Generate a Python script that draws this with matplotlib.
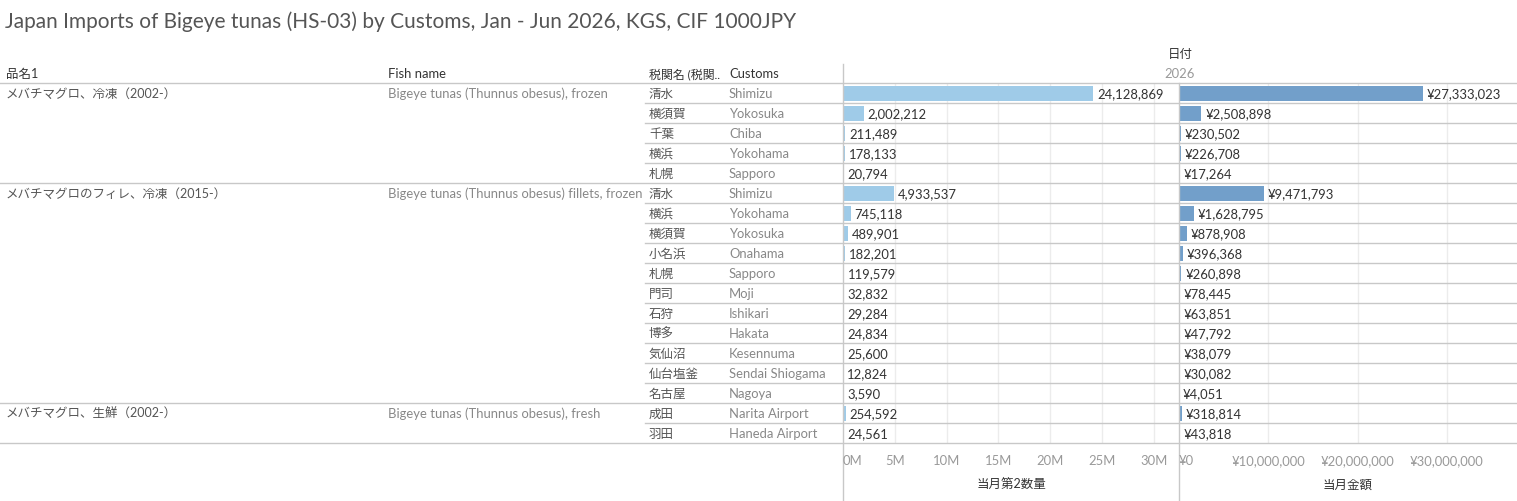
import matplotlib
matplotlib.use("Agg")
import matplotlib.pyplot as plt
from matplotlib.transforms import blended_transform_factory

plt.rcParams['font.family'] = ['Lato', 'Noto Sans CJK JP', 'DejaVu Sans']

# data
products_jp = ["メバチマグロ、冷凍（2002-）", "メバチマグロのフィレ、冷凍（2015-）", "メバチマグロ、生鮮（2002-）"]
products_en = ["Bigeye tunas (Thunnus obesus), frozen",
               "Bigeye tunas (Thunnus obesus) fillets, frozen",
               "Bigeye tunas (Thunnus obesus), fresh"]
group_sizes = [5, 11, 2]
customs_jp = ["清水", "横須賀", "千葉", "横浜", "札幌",
              "清水", "横浜", "横須賀", "小名浜", "札幌", "門司", "石狩", "博多", "気仙沼", "仙台塩釜", "名古屋",
              "成田", "羽田"]
customs_en = ["Shimizu", "Yokosuka", "Chiba", "Yokohama", "Sapporo",
              "Shimizu", "Yokohama", "Yokosuka", "Onahama", "Sapporo", "Moji", "Ishikari", "Hakata", "Kesennuma",
              "Sendai Shiogama", "Nagoya",
              "Narita Airport", "Haneda Airport"]
qty = [24128869, 2002212, 211489, 178133, 20794,
       4933537, 745118, 489901, 182201, 119579, 32832, 29284, 24834, 25600, 12824, 3590,
       254592, 24561]
value = [27333023, 2508898, 230502, 226708, 17264,
         9471793, 1628795, 878908, 396368, 260898, 78445, 63851, 47792, 38079, 30082, 4051,
         318814, 43818]
qty_ticks = [0, 5e6, 10e6, 15e6, 20e6, 25e6, 30e6]
qty_labels = ["0M", "5M", "10M", "15M", "20M", "25M", "30M"]
val_ticks = [0, 10e6, 20e6, 30e6]
val_labels = ["¥0", "¥10,000,000", "¥20,000,000", "¥30,000,000"]

W, H = 1517, 501
fig = plt.figure(figsize=(W / 100, H / 100), dpi=100)

# table layer in pixel coords
tab = fig.add_axes([0, 0, 1, 1])
tab.set_xlim(0, W)
tab.set_ylim(H, 0)
tab.axis("off")

top = 83
rh = 20
n = len(qty)
line_c = "#c8c8c8"
fs = 9.4
fs_jp = 9.0
VA = "center_baseline"

tab.text(5, 20, "Japan Imports of Bigeye tunas (HS-03) by Customs, Jan - Jun 2026, KGS, CIF 1000JPY",
         fontsize=15, color="#555555", va=VA, ha="left")
tab.text(1180, 53, "日付", fontsize=fs_jp, color="#333333", ha="center", va=VA)
tab.text(1180, 73, "2026", fontsize=fs, color="#999999", ha="center", va=VA)
for x, s, f in [(6, "品名1", fs_jp), (388, "Fish name", fs), (649, "税関名 (税関..", 8.6), (729, "Customs", fs)]:
    tab.text(x, 73, s, fontsize=f, color="#333333", ha="left", va=VA)

# lines
tab.plot([0, W], [top, top], color=line_c, lw=1)
start = 0
for g, size in enumerate(group_sizes):
    y0 = top + start * rh
    tab.text(6, y0 + 10, products_jp[g], fontsize=fs_jp, color="#555555", ha="left", va=VA)
    tab.text(388, y0 + 10, products_en[g], fontsize=fs, color="#888888", ha="left", va=VA)
    for i in range(1, size):
        yy = y0 + i * rh
        tab.plot([645, W], [yy, yy], color=line_c, lw=1)
    start += size
    yy = top + start * rh
    tab.plot([0, W], [yy, yy], color=line_c, lw=1)

for i in range(n):
    yc = top + i * rh + 10
    tab.text(649, yc, customs_jp[i], fontsize=fs_jp, color="#555555", ha="left", va=VA)
    tab.text(729, yc, customs_en[i], fontsize=fs, color="#888888", ha="left", va=VA)

tab.plot([843, 843], [64, H], color=line_c, lw=1)
tab.plot([1179, 1179], [top, H], color=line_c, lw=1)

tab.text(1011, 484, "当月第2数量", fontsize=fs_jp, color="#333333", ha="center", va=VA)
tab.text(1348, 484, "当月金額", fontsize=fs_jp, color="#333333", ha="center", va=VA)


def bar_panel(x0, x1, xmax, vals, color, ticks, labels, fmt):
    ax = fig.add_axes([x0 / W, 1 - (top + n * rh) / H, (x1 - x0) / W, n * rh / H])
    ax.set_zorder(-1)
    ax.patch.set_alpha(0)
    ax.set_xlim(0, xmax)
    ax.set_ylim(n - 0.5, -0.5)
    ax.barh(range(n), vals, height=0.75, color=color, zorder=2)
    for i, v in enumerate(vals):
        ax.annotate(fmt(v), (v, i), xytext=(4, 0), textcoords="offset pixels",
                    va=VA, ha="left", fontsize=fs, color="#333333", zorder=3)
    for s in ax.spines.values():
        s.set_visible(False)
    ax.set_yticks([])
    ax.set_xticks(ticks[1:])
    ax.set_xticklabels([])
    ax.tick_params(length=0)
    ax.grid(axis="x", color="#ececec", lw=1, zorder=0)
    tr = blended_transform_factory(ax.transData, tab.transData)
    for t, lab in zip(ticks, labels):
        tab.text(t, 460, lab, transform=tr, ha="left" if t == 0 else "center", va=VA,
                 fontsize=fs, color="#999999")
    return ax


bar_panel(843, 1179, 32.43e6, qty, "#9fcbe8", qty_ticks, qty_labels, lambda v: f"{v:,}")
bar_panel(1179, 1517, 37.85e6, value, "#729fca", val_ticks, val_labels, lambda v: f"¥{v:,}")

fig.savefig("out.png", dpi=100)
